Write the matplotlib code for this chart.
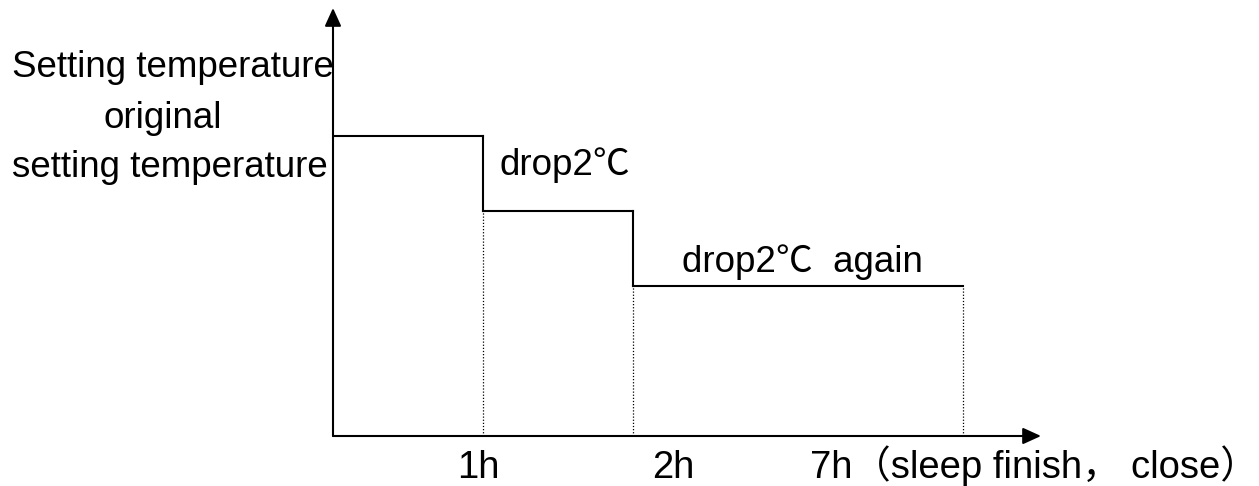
import matplotlib.pyplot as plt
import matplotlib.transforms as mtransforms

# step schedule (schematic units)
step_x = [0, 1, 2, 4.2]          # start, 1h, 2h, 7h
levels = [4, 3, 2]               # original, -2C, -2C again
x_end = 4.72
y_end = 5.71

tick_labels = ['1h', '2h', '7h（sleep finish， close）']
tick_pos = [0.83, 2.13, 3.18]

fam = ['Liberation Sans', 'Noto Sans CJK SC', 'DejaVu Sans']

fig = plt.figure(figsize=(12.59, 4.86), dpi=100)
ax = fig.add_axes([333 / 1259, 50 / 486, (1041 - 333) / 1259, (436 - 8) / 486])
ax.set_xlim(0, x_end)
ax.set_ylim(0, y_end)
ax.axis('off')

# axes with arrows
arr = dict(arrowstyle='-|>,head_length=1.1,head_width=0.5', color='black', lw=1.5,
           shrinkA=0, shrinkB=0)
ax.annotate('', xy=(x_end, 0), xytext=(0, 0), arrowprops=arr)
ax.annotate('', xy=(0, y_end), xytext=(0, 0), arrowprops=arr)

# step line
for i in range(len(levels)):
    ax.plot([step_x[i], step_x[i + 1]], [levels[i], levels[i]], color='black', lw=1.5)
    if i + 1 < len(levels):
        ax.plot([step_x[i + 1], step_x[i + 1]], [levels[i], levels[i + 1]], color='black', lw=1.5)

# dotted drop lines
for i in range(1, len(step_x)):
    top = levels[min(i, len(levels) - 1)]
    ax.plot([step_x[i], step_x[i]], [0, top], color='black', lw=0.9, ls=(0, (1, 1.5)))

fs = 26.5
fig.text(12 / 1259, 1 - 77 / 486, 'Setting temperature', fontsize=fs, family=fam, va='baseline', ha='left')
fig.text(163 / 1259, 1 - 128 / 486, 'original', fontsize=fs, family=fam, va='baseline', ha='center')
fig.text(12 / 1259, 1 - 177 / 486, 'setting temperature', fontsize=fs, family=fam, va='baseline', ha='left')

ax.text(1.11, 3.48, 'drop2℃', fontsize=fs, family=fam, va='baseline', ha='left')
ax.text(2.33, 2.19, 'drop2℃  again', fontsize=fs, family=fam, va='baseline', ha='left')

trans = mtransforms.blended_transform_factory(ax.transData, fig.transFigure)
for p, t in zip(tick_pos, tick_labels):
    ax.text(p, 1 - 478 / 486, t, fontsize=27.5, family=fam, va='baseline', ha='left',
            transform=trans)

fig.savefig('out.png', dpi=100)
